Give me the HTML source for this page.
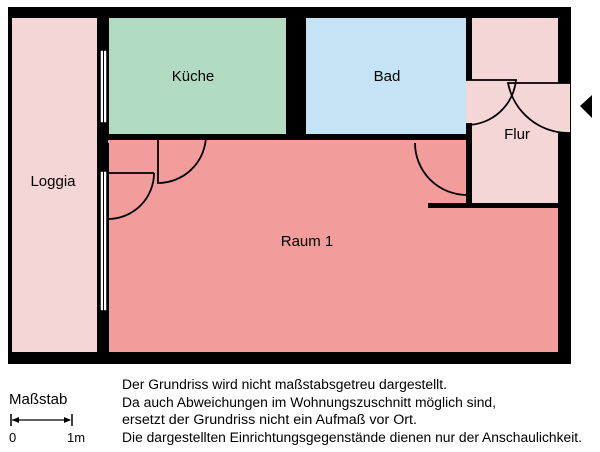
<!DOCTYPE html>
<html><head><style>body{margin:0;background:#fff}svg text{font-family:"Liberation Sans",sans-serif;fill:#000}</style></head><body>
<svg width="600" height="447" viewBox="0 0 600 447">
<rect x="8" y="7" width="563" height="357" fill="#000"/>
<rect x="12" y="18" width="85" height="334" fill="#f5d6d6"/>
<rect x="109" y="18" width="177" height="116" fill="#b2dcc2"/>
<rect x="306" y="18" width="160" height="116" fill="#c4e3f5"/>
<rect x="109" y="140" width="449" height="212" fill="#f29c9c"/>
<rect x="472" y="18" width="86" height="185" fill="#f5d6d6"/>
<rect x="466" y="80" width="6" height="43" fill="#f5d6d6"/>
<rect x="558" y="83" width="12" height="50" fill="#f5d6d6"/>
<rect x="428" y="203" width="130" height="5" fill="#000"/>
<rect x="466" y="123" width="6" height="85" fill="#000"/>
<rect x="108" y="140" width="358" height="3" fill="#f29c9c"/>
<rect x="108" y="134" width="50" height="6" fill="#000"/>
<rect x="206" y="134" width="80" height="6" fill="#000"/>
<rect x="306" y="134" width="160" height="6" fill="#000"/>
<rect x="100" y="50" width="7" height="73" fill="#fff" stroke="#000" stroke-width="1.5"/>
<line x1="103.5" y1="50" x2="103.5" y2="123" stroke="#000" stroke-width="1"/>
<rect x="100" y="171" width="7" height="140" fill="#fff" stroke="#000" stroke-width="1.5"/>
<line x1="103.5" y1="171" x2="103.5" y2="311" stroke="#000" stroke-width="1"/>
<g fill="none" stroke="#000" stroke-width="1.8">
<path d="M158 135 V183 A48 48 0 0 0 206 135"/>
<path d="M154 173 H108 M154 173 A46 46 0 0 1 108 219"/>
<path d="M415 143 A52 52 0 0 0 467 195"/>
<path d="M466 80 H516 A50 50 0 0 1 466 125"/>
<path d="M570 83 H508 A62 62 0 0 0 570 133"/>
</g>
<polygon points="580,106 592,95 592,118" fill="#000"/>
<text x="193" y="81" font-size="15" text-anchor="middle">Küche</text>
<text x="387" y="81" font-size="15" text-anchor="middle">Bad</text>
<text x="517" y="139" font-size="15" text-anchor="middle">Flur</text>
<text x="53" y="186" font-size="15" text-anchor="middle">Loggia</text>
<text x="307" y="246" font-size="15" text-anchor="middle">Raum 1</text>
<text x="9" y="404" font-size="15">Maßstab</text>
<line x1="11" y1="414" x2="11" y2="426" stroke="#000" stroke-width="1.5"/>
<line x1="72" y1="414" x2="72" y2="426" stroke="#000" stroke-width="1.5"/>
<line x1="12" y1="420" x2="70" y2="420" stroke="#000" stroke-width="1.3"/>
<polygon points="12,420 19,417 19,423" fill="#000"/>
<polygon points="71,420 64,417 64,423" fill="#000"/>
<text x="9" y="442" font-size="13">0</text>
<text x="67" y="442" font-size="13">1m</text>
<g font-size="13.4">
<text x="122" y="389" textLength="325" lengthAdjust="spacingAndGlyphs">Der Grundriss wird nicht maßstabsgetreu dargestellt.</text>
<text x="122" y="407" textLength="374" lengthAdjust="spacingAndGlyphs">Da auch Abweichungen im Wohnungszuschnitt möglich sind,</text>
<text x="122" y="424" textLength="295" lengthAdjust="spacingAndGlyphs">ersetzt der Grundriss nicht ein Aufmaß vor Ort.</text>
<text x="122" y="442" textLength="460" lengthAdjust="spacingAndGlyphs">Die dargestellten Einrichtungsgegenstände dienen nur der Anschaulichkeit.</text>
</g>
</svg>
</body></html>
